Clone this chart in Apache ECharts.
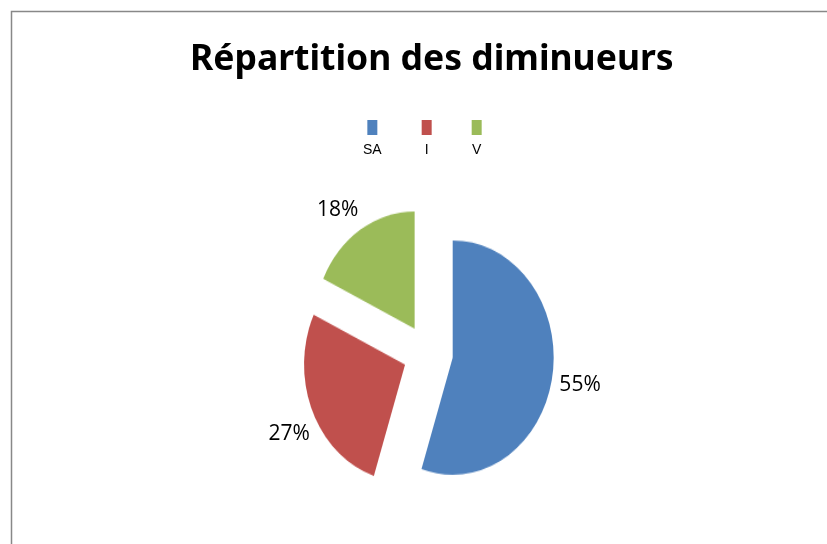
<!DOCTYPE html>
<html>
<head>
<meta charset="utf-8">
<script src="https://cdn.jsdelivr.net/npm/echarts@6/dist/echarts.min.js"></script>
<style>
html,body{margin:0;padding:0;background:#fff;}
#wrap{position:relative;width:827px;height:544px;}
#main{position:absolute;left:0;top:0;width:827px;height:544px;}
/* le camembert est étiré verticalement comme dans Excel */
#pie{position:absolute;left:0;top:0;width:827px;height:544px;transform-origin:428px 353px;transform:scaleY(1.16);pointer-events:none;}
</style>
</head>
<body>
<div id="wrap">
	<div id="main"></div>
	<div id="pie"></div>
</div>
<script>
// données
var categories = ['SA', 'I', 'V'];
var values = [55, 27, 18];
var colors = ['#4F81BD', '#C0504D', '#9BBB59'];

var pieCenter = [428, 353];
var pieRadius = 101;
var pieOffset = 25;

function buildData(transparent) {
	var arr = [];
	for (var i = 0; i < categories.length; i++) {
		arr.push({
			name: categories[i],
			value: values[i],
			selected: true,
			itemStyle: { color: transparent ? 'rgba(0,0,0,0)' : colors[i] }
		});
	}
	return arr;
}

// légende : carré au-dessus du texte
var rich = {};
for (var j = 0; j < categories.length; j++) {
	var n = categories[j];
	rich[n] = { width: 10, height: 15, align: 'center', backgroundColor: colors[j] };
	rich['t' + n] = { align: 'center', fontSize: 14, fontFamily: 'Liberation Sans', color: '#000', padding: [8, 0, 0, 0] };
}

// décalage des étiquettes (placement Excel)
var labelShift = { SA: [-4, 11], I: [8, 29], V: [6, -32] };

var myChart = echarts.init(document.getElementById('main'));
var option = {
	backgroundColor: '#fff',
	animation: false,
	title: {
		text: 'Répartition des diminueurs',
		left: 185,
		top: 37,
		textStyle: { fontFamily: 'Noto Sans', fontWeight: 'bold', fontSize: 35.5, color: '#000' }
	},
	legend: {
		data: categories,
		left: 353,
		top: 115,
		itemWidth: 0,
		itemHeight: 0,
		itemGap: 35,
		icon: 'rect',
		selectedMode: false,
		formatter: function (name) {
			return '{' + name + '|}\n{t' + name + '|' + name + '}';
		},
		textStyle: { rich: rich }
	},
	graphic: [{
		type: 'rect',
		shape: { x: 11.5, y: 11.5, width: 900, height: 600 },
		style: { fill: null, stroke: '#888', lineWidth: 1.5 },
		silent: true
	}],
	series: [{
		// étiquettes seulement
		type: 'pie',
		center: pieCenter,
		radius: [0, pieRadius],
		startAngle: 90,
		clockwise: true,
		selectedMode: 'multiple',
		selectedOffset: pieOffset,
		data: buildData(true),
		label: {
			show: true,
			position: 'outside',
			formatter: '{d}%',
			fontSize: 21,
			fontFamily: 'Open Sans',
			color: '#000'
		},
		labelLine: { show: false, length: 6, length2: 0 },
		labelLayout: function (params) {
			var s = labelShift[categories[params.dataIndex]];
			return { dx: s[0], dy: s[1] };
		},
		emphasis: { disabled: true }
	}]
};
myChart.setOption(option);

var pieChart = echarts.init(document.getElementById('pie'));
pieChart.setOption({
	animation: false,
	series: [{
		type: 'pie',
		center: pieCenter,
		radius: [0, pieRadius],
		startAngle: 90,
		clockwise: true,
		selectedMode: 'multiple',
		selectedOffset: pieOffset,
		data: buildData(false),
		label: { show: false },
		labelLine: { show: false },
		emphasis: { disabled: true }
	}]
});
</script>
</body>
</html>
